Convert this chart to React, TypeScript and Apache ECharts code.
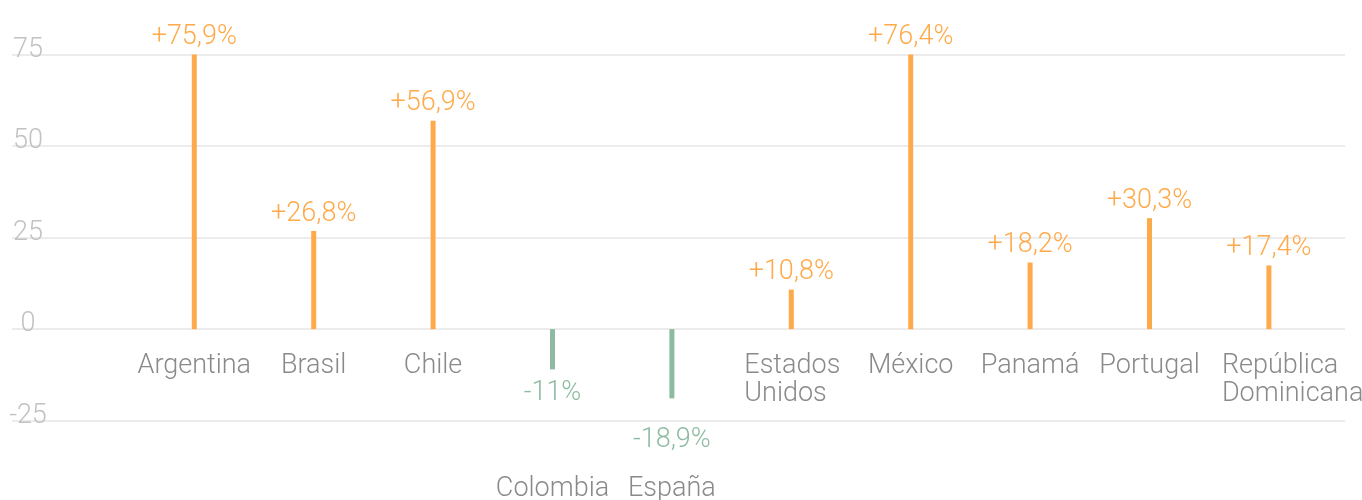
import React, { useEffect, useRef } from "react";
import * as echarts from "echarts";

const categories = [
  "Argentina",
  "Brasil",
  "Chile",
  "Colombia",
  "España",
  "Estados\nUnidos",
  "México",
  "Panamá",
  "Portugal",
  "República\nDominicana",
];
const values = [75.9, 26.8, 56.9, -11, -18.9, 10.8, 76.4, 18.2, 30.3, 17.4];
const yTicks = { min: -25, max: 75, interval: 25 };

const ORANGE = "#FFAA4A";
const GREEN = "#8DBBA2";
const FONT = "Roboto, 'Helvetica Neue', Arial, sans-serif";
const FS = 27;

function fmt(v: number): string {
  return (v > 0 ? "+" : "") + String(v).replace(".", ",") + "%";
}

export default function App() {
  const ref = useRef<HTMLDivElement>(null);
  useEffect(() => {
    if (!ref.current) return;
    const chart = echarts.init(ref.current, undefined, { renderer: "svg" });
    const gridLeft = 12;
    const gridRight = 17;
    const gridTop = 54.5;
    const gridBottom = 79.3;
    const plotH = 500 - gridTop - gridBottom;
    const width = 1362 - gridLeft - gridRight;
    const step = 119.4; // px per category
    const firstCenter = 194.3;
    const xMin = -(firstCenter - gridLeft) / step;
    const xMax = xMin + width / step;
    // distance from the grid's bottom edge up to the zero line
    const zeroOffset =
      (plotH * (0 - yTicks.min)) / (yTicks.max - yTicks.min);
    const baseText = {
      fontSize: FS,
      fontFamily: FONT,
      fontWeight: 300,
      color: "#8a8a8a",
      lineHeight: 28,
    };
    const idx = categories.map((_, i) => i);
    const single = idx.filter(
      (i) => values[i] >= 0 && !categories[i].includes("\n")
    );
    const multi = idx.filter(
      (i) => values[i] >= 0 && categories[i].includes("\n")
    );
    const neg = idx.filter((i) => values[i] < 0);
    // multi-line labels: left-aligned block starting 47px left of the bar
    const shift = 47 / step;
    const catAxis = (
      custom: number[],
      margin: number,
      align: string,
      dx: number
    ) => ({
      type: "value",
      min: xMin + dx,
      max: xMax + dx,
      position: "bottom",
      offset: -zeroOffset,
      axisLine: { show: false, onZero: false },
      axisTick: { show: false },
      splitLine: { show: false },
      axisLabel: {
        customValues: custom,
        margin,
        hideOverlap: false,
        showMinLabel: true,
        showMaxLabel: true,
        align,
        ...baseText,
        formatter: (val: number) => categories[Math.round(val)],
      },
    });
    chart.setOption({
      animation: false,
      textStyle: { fontFamily: FONT, fontWeight: 300 },
      grid: {
        left: gridLeft,
        right: gridRight,
        top: gridTop,
        bottom: gridBottom,
        containLabel: false,
        outerBoundsMode: "none",
      },
      xAxis: [
        catAxis(single, 21, "center", 0),
        catAxis(multi, 21, "left", shift),
        catAxis(neg, 144, "center", 0),
      ],
      yAxis: {
        type: "value",
        min: yTicks.min,
        max: yTicks.max,
        interval: yTicks.interval,
        axisLine: { show: false },
        axisTick: { show: false },
        splitLine: { lineStyle: { color: "#e6e6e6", width: 1.5 } },
        axisLabel: {
          inside: true,
          align: "center",
          verticalAlign: "bottom",
          lineHeight: 14,
          margin: 16,
          color: "#c2c2c2",
          fontSize: FS,
          fontFamily: FONT,
          fontWeight: 300,
        },
      },
      series: [
        {
          type: "bar",
          barWidth: 5,
          xAxisIndex: 0,
          data: values.map((v, i) => ({
            value: [i, v],
            itemStyle: { color: v < 0 ? GREEN : ORANGE },
            label: {
              position: v < 0 ? "bottom" : "top",
              color: v < 0 ? GREEN : ORANGE,
              distance: v < 0 ? (i === 4 ? 26 : 8) : 6,
            },
          })),
          label: {
            show: true,
            fontSize: FS,
            fontFamily: FONT,
            fontWeight: 300,
            formatter: (p: any) => fmt(p.value[1]),
          },
        },
      ],
    });
    return () => chart.dispose();
  }, []);
  return (
    <div
      ref={ref}
      style={{ position: "fixed", left: 0, top: 0, width: 1362, height: 500 }}
    />
  );
}
